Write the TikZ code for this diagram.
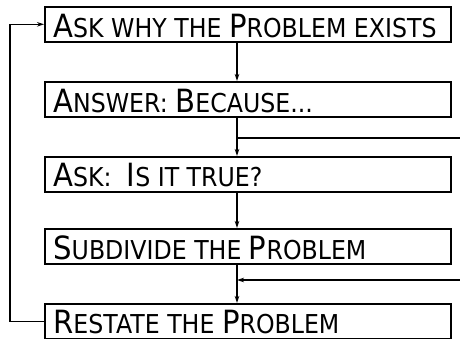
\documentclass[tikz,border=0pt]{standalone}
\usepackage{fontspec}
\setmainfont[FakeStretch=0.91]{DejaVu Sans}
\usetikzlibrary{arrows.meta}
\newcommand\BG{\fontsize{32pt}{32pt}\selectfont}
\newcommand\SM{\fontsize{26pt}{26pt}\selectfont}
\begin{document}
\begin{tikzpicture}[x=1pt,y=-1pt,
  box/.style={draw,line width=1.6pt,anchor=north west,minimum width=406pt,minimum height=35pt,inner sep=0pt},
  lbl/.style={anchor=base west,inner sep=0pt,text depth=0pt},
  conn/.style={line width=1.4pt},
  arr/.style={conn,-{Stealth[length=7pt,width=4.5pt]}}]
\useasboundingbox (0,0) rectangle (460,338);
\begin{scope}
\clip (0,0) rectangle (460,338);
\node[box] (b1) at (44,6) {};
\node[box] (b2) at (44,81) {};
\node[box] (b3) at (44,156) {};
\node[box] (b4) at (44,228) {};
\node[box] (b5) at (44,303) {};
\node[lbl] (t1) at (53,37) {\BG A\SM SK WHY THE \BG P\SM ROBLEM EXISTS};
\node[lbl] (t2) at (53,112) {\BG A\SM NSWER: \BG B\SM ECAUSE...};
\node[lbl] (t3) at (53,186) {\BG A\SM SK:\ \ \BG I\SM S IT TRUE?};
\node[lbl] (t4) at (53,259) {\BG S\SM UBDIVIDE THE \BG P\SM ROBLEM};
\node[lbl] (t5) at (53,333) {\BG R\SM ESTATE THE \BG P\SM ROBLEM};
\coordinate (c) at (237,0);
\coordinate (in1) at (462,138);
\coordinate (in2) at (462,280);
\draw[arr] (b1.south -| c) -- (b2.north -| c);
\draw[arr] (b2.south -| c) -- (b3.north -| c);
\draw[arr] (b3.south -| c) -- (b4.north -| c);
\draw[arr] (b4.south -| c) -- (b5.north -| c);
\draw[conn] (in1) -- (in1 -| c);
\draw[arr] (in2) -- (in2 -| c);
\draw[arr] (b5.west) -- ++(-34,0) |- (b1.west);
\end{scope}
\end{tikzpicture}
\end{document}
